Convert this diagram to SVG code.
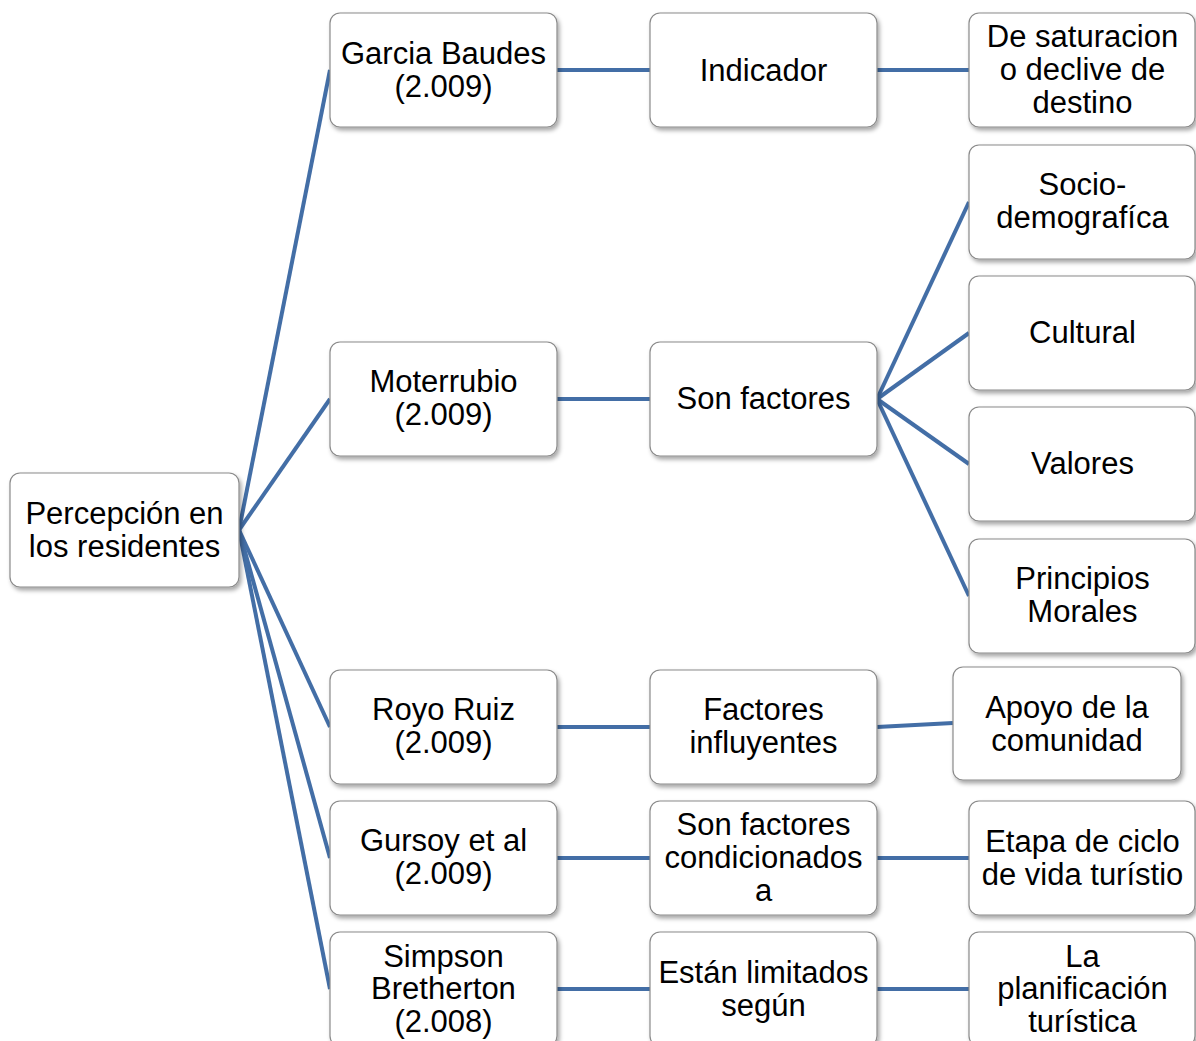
<svg xmlns="http://www.w3.org/2000/svg" width="1196" height="1041" viewBox="0 0 1196 1041">
<defs>
<filter id="sh" x="-10%" y="-10%" width="130%" height="130%">
<feDropShadow dx="2" dy="3" stdDeviation="2" flood-color="#000" flood-opacity="0.35"/>
</filter>
<style>
.box{fill:#fff;stroke:#8a8a8a;stroke-width:1.2;filter:url(#sh)}
.t{font-family:"Liberation Sans",Arial,sans-serif;font-size:31px;fill:#000;text-anchor:middle}
.c{stroke:#436ea6;stroke-width:4;fill:none;stroke-linecap:butt}
</style>
</defs>
<rect width="1196" height="1041" fill="#fff"/>
<g id="connectors">
<line class="c" x1="239" y1="530" x2="330" y2="70"/>
<line class="c" x1="239" y1="530" x2="330" y2="399"/>
<line class="c" x1="239" y1="530" x2="330" y2="727"/>
<line class="c" x1="239" y1="530" x2="330" y2="858"/>
<line class="c" x1="239" y1="530" x2="330" y2="989"/>
<line class="c" x1="557" y1="70" x2="650" y2="70"/>
<line class="c" x1="557" y1="399" x2="650" y2="399"/>
<line class="c" x1="557" y1="727" x2="650" y2="727"/>
<line class="c" x1="557" y1="858" x2="650" y2="858"/>
<line class="c" x1="557" y1="989" x2="650" y2="989"/>
<line class="c" x1="877" y1="70" x2="969" y2="70"/>
<line class="c" x1="877" y1="399" x2="969" y2="202"/>
<line class="c" x1="877" y1="399" x2="969" y2="333"/>
<line class="c" x1="877" y1="399" x2="969" y2="464"/>
<line class="c" x1="877" y1="399" x2="969" y2="596"/>
<line class="c" x1="877" y1="727" x2="953" y2="723"/>
<line class="c" x1="877" y1="858" x2="969" y2="858"/>
<line class="c" x1="877" y1="989" x2="969" y2="989"/>
</g>
<g id="root"><rect class="box" x="10" y="473" width="229" height="114" rx="10"/><text class="t" x="124.5" y="524">Percepción en</text><text class="t" x="124.5" y="557">los residentes</text></g>
<g id="garcia"><rect class="box" x="330" y="13" width="227" height="114" rx="10"/><text class="t" x="443.5" y="64">Garcia Baudes</text><text class="t" x="443.5" y="97">(2.009)</text></g>
<g id="moterrubio"><rect class="box" x="330" y="342" width="227" height="114" rx="10"/><text class="t" x="443.5" y="392">Moterrubio</text><text class="t" x="443.5" y="425">(2.009)</text></g>
<g id="royo"><rect class="box" x="330" y="670" width="227" height="114" rx="10"/><text class="t" x="443.5" y="720">Royo Ruiz</text><text class="t" x="443.5" y="753">(2.009)</text></g>
<g id="gursoy"><rect class="box" x="330" y="801" width="227" height="114" rx="10"/><text class="t" x="443.5" y="851">Gursoy et al</text><text class="t" x="443.5" y="884">(2.009)</text></g>
<g id="simpson"><rect class="box" x="330" y="932" width="227" height="114" rx="10"/><text class="t" x="443.5" y="967">Simpson</text><text class="t" x="443.5" y="999">Bretherton</text><text class="t" x="443.5" y="1032">(2.008)</text></g>
<g id="indicador"><rect class="box" x="650" y="13" width="227" height="114" rx="10"/><text class="t" x="763.5" y="81">Indicador</text></g>
<g id="sonfactores"><rect class="box" x="650" y="342" width="227" height="114" rx="10"/><text class="t" x="763.5" y="409">Son factores</text></g>
<g id="factoresinfluyentes"><rect class="box" x="650" y="670" width="227" height="114" rx="10"/><text class="t" x="763.5" y="720">Factores</text><text class="t" x="763.5" y="753">influyentes</text></g>
<g id="condicionados"><rect class="box" x="650" y="801" width="227" height="114" rx="10"/><text class="t" x="763.5" y="835">Son factores</text><text class="t" x="763.5" y="868">condicionados</text><text class="t" x="763.5" y="901">a</text></g>
<g id="limitados"><rect class="box" x="650" y="932" width="227" height="114" rx="10"/><text class="t" x="763.5" y="983">Están limitados</text><text class="t" x="763.5" y="1016">según</text></g>
<g id="saturacion"><rect class="box" x="969" y="13" width="226" height="114" rx="10"/><text class="t" x="1082.5" y="47">De saturacion</text><text class="t" x="1082.5" y="80">o declive de</text><text class="t" x="1082.5" y="113">destino</text></g>
<g id="socio"><rect class="box" x="969" y="145" width="226" height="114" rx="10"/><text class="t" x="1082.5" y="195">Socio-</text><text class="t" x="1082.5" y="228">demografíca</text></g>
<g id="cultural"><rect class="box" x="969" y="276" width="226" height="114" rx="10"/><text class="t" x="1082.5" y="343">Cultural</text></g>
<g id="valores"><rect class="box" x="969" y="407" width="226" height="114" rx="10"/><text class="t" x="1082.5" y="474">Valores</text></g>
<g id="principios"><rect class="box" x="969" y="539" width="226" height="114" rx="10"/><text class="t" x="1082.5" y="589">Principios</text><text class="t" x="1082.5" y="622">Morales</text></g>
<g id="apoyo"><rect class="box" x="953" y="667" width="228" height="113" rx="10"/><text class="t" x="1067" y="718">Apoyo de la</text><text class="t" x="1067" y="751">comunidad</text></g>
<g id="etapa"><rect class="box" x="969" y="801" width="226" height="114" rx="10"/><text class="t" x="1082.5" y="852">Etapa de ciclo</text><text class="t" x="1082.5" y="885">de vida turístio</text></g>
<g id="planificacion"><rect class="box" x="969" y="932" width="226" height="114" rx="10"/><text class="t" x="1082.5" y="967">La</text><text class="t" x="1082.5" y="999">planificación</text><text class="t" x="1082.5" y="1032">turística</text></g>
</svg>
